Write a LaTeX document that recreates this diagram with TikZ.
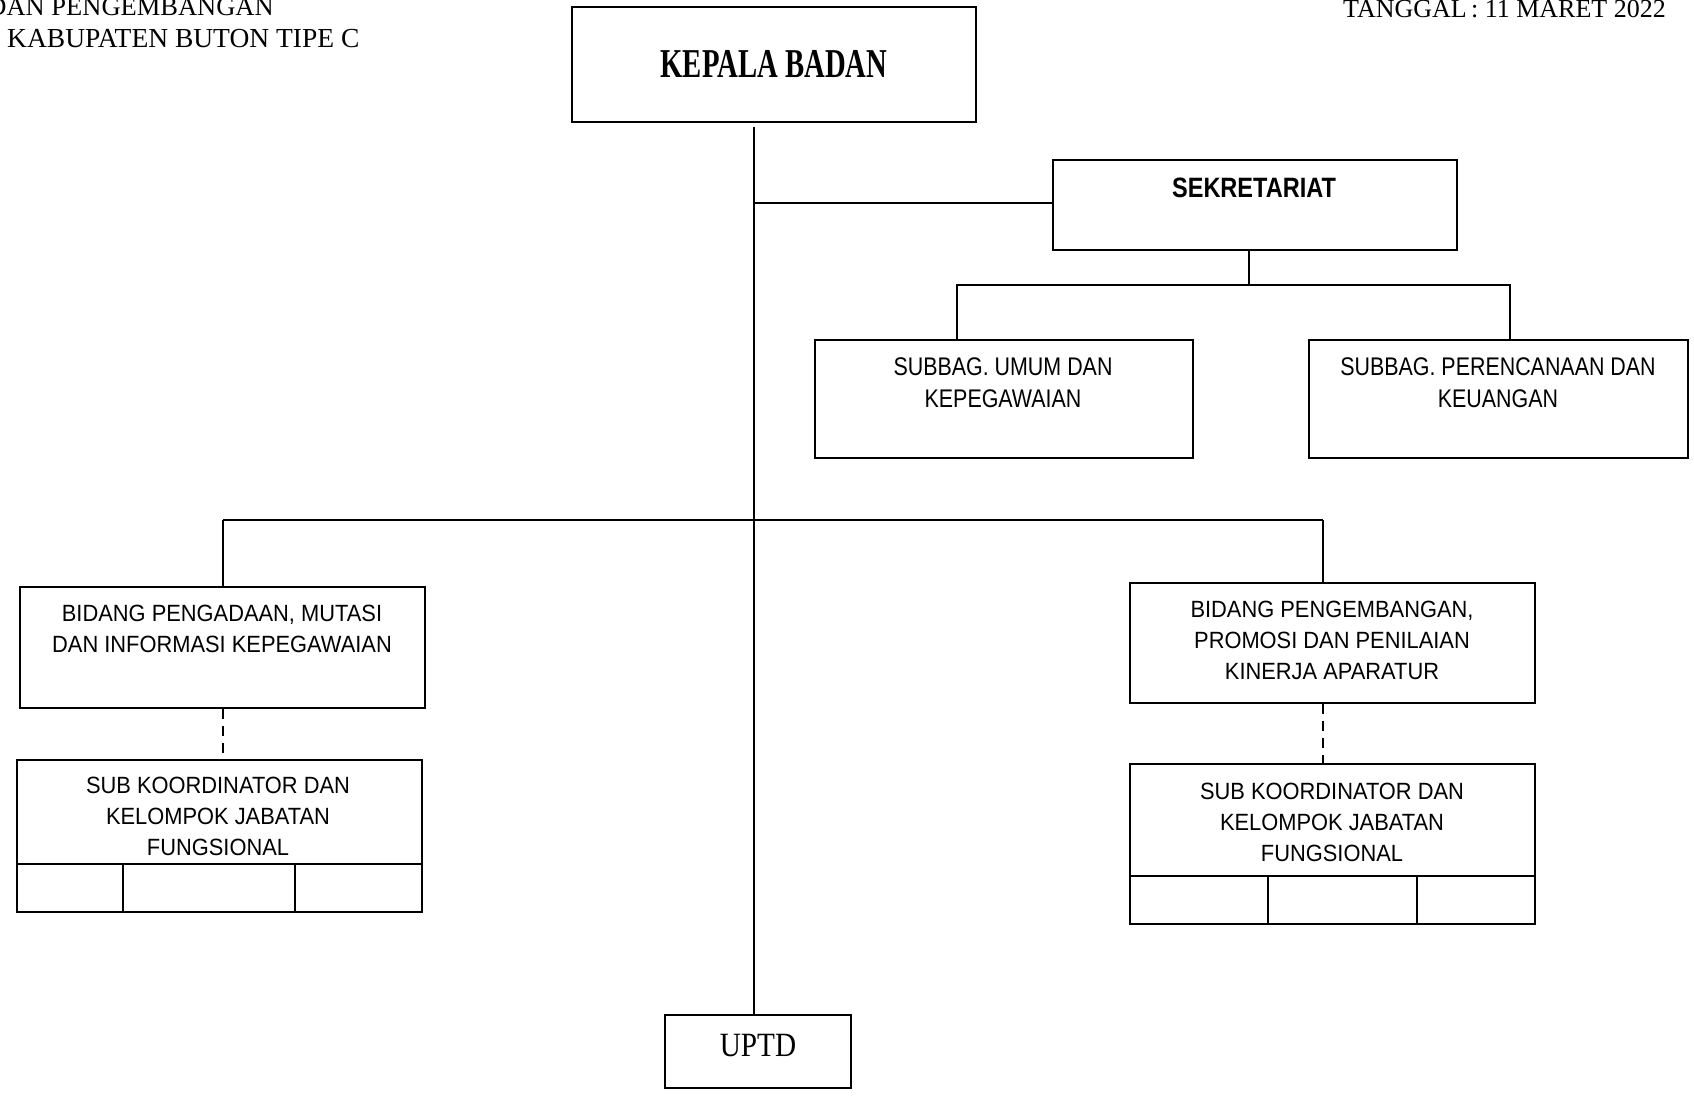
\documentclass[tikz,border=0pt]{standalone}
\usepackage{fontspec}
\setmainfont{Liberation Serif}
\newfontfamily\orgsans{Liberation Sans}[FakeStretch=0.93]
\newfontfamily\orgnarrow{Liberation Sans}[FakeStretch=0.84]
\newfontfamily\orghead{Liberation Serif}[FakeStretch=0.70]
\newfontfamily\orgunit{Liberation Serif}[FakeStretch=0.86]
\usetikzlibrary{positioning,calc}

\begin{document}
\begin{tikzpicture}[x=1pt, y=-1pt, line join=miter,
  box/.style={draw, line width=2.2pt, inner sep=0pt},
  link/.style={line width=2pt},
  dashlink/.style={line width=2pt, dash pattern=on 10pt off 7pt},
  boxtext/.style={inner sep=0pt, align=center, font=\orgsans\fontsize{23.5}{31}\selectfont},
  subtext/.style={inner sep=0pt, align=center, font=\orgnarrow\fontsize{25.5}{32}\selectfont},
  hdr/.style={inner sep=0pt, font=\fontsize{27.5}{32}\selectfont}]
\useasboundingbox (0,0) rectangle (1694,1095);
\fill[white] (0,0) rectangle (1694,1095);
\node[hdr, anchor=base east, font=\fontsize{26.5}{32}\selectfont] (hdr1) at (274,15) {DAN PENGEMBANGAN};
\node[hdr, anchor=base west] (hdr2) at (7,47) {KABUPATEN BUTON TIPE C};
\node[hdr, anchor=base west, font=\fontsize{26}{32}\selectfont] (tgl) at (1343,17) {TANGGAL\,: 11 MARET 2022};
\node[box, minimum width=404pt, minimum height=115pt, font=\orghead\bfseries\fontsize{41}{41}\selectfont] (kepala) at (774,64.5) {KEPALA BADAN};
\node[box, minimum width=404pt, minimum height=90pt] (sekret) at (1255,205) {};
\node[subtext, font=\orgnarrow\bfseries\fontsize{28}{32}\selectfont] (sekret-t) at (1254,188) {SEKRETARIAT};
\node[box, minimum width=378pt, minimum height=118pt] (umum) at (1004,399) {};
\node[subtext] (umum-t) at (1003,383) {SUBBAG. UMUM DAN\\KEPEGAWAIAN};
\node[box, minimum width=379pt, minimum height=118pt] (rencana) at (1498.5,399) {};
\node[subtext] (rencana-t) at (1498,383) {SUBBAG. PERENCANAAN DAN\\KEUANGAN};
\node[box, minimum width=405pt, minimum height=121pt] (mutasi) at (222.5,647.5) {};
\node[boxtext] (mutasi-t) at (222,629) {BIDANG PENGADAAN, MUTASI\\DAN INFORMASI KEPEGAWAIAN};
\node[box, minimum width=405pt, minimum height=120pt] (kinerja) at (1332.5,643) {};
\node[boxtext] (kinerja-t) at (1332,640) {BIDANG PENGEMBANGAN,\\PROMOSI DAN PENILAIAN\\KINERJA APARATUR};
\node[box, minimum width=405pt, minimum height=152pt] (fungsiA) at (219.5,836) {};
\node[boxtext] (fungsiA-t) at (218,816) {SUB KOORDINATOR DAN\\KELOMPOK JABATAN\\FUNGSIONAL};
\node[box, minimum width=405pt, minimum height=160pt] (fungsiB) at (1332.5,844) {};
\node[boxtext] (fungsiB-t) at (1332,822) {SUB KOORDINATOR DAN\\KELOMPOK JABATAN\\FUNGSIONAL};
\node[box, minimum width=186pt, minimum height=73pt] (uptd) at (758,1051.5) {};
\node[inner sep=0pt, font=\orgunit\fontsize{34}{34}\selectfont] (uptd-t) at (758,1046) {UPTD};
\coordinate (top) at (754,127);
\coordinate (jsek) at (754,203);
\coordinate (sdrop) at (1249,285);
\coordinate (sl) at (957,285);
\coordinate (sr) at (1510,285);
\coordinate (bl) at (223,520);
\coordinate (br) at (1323,520);
\draw[link] (top) -- (top |- uptd.north);
\draw[link] (jsek) -- (jsek -| sekret.west);
\draw[link] (sdrop |- sekret.south) -- (sdrop);
\draw[link, line width=2.3pt] (sl |- umum.north) -- (sl) -- (sr) -- (sr |- rencana.north);
\draw[link, line width=2.5pt] (bl) -- (br);
\draw[link] (bl) -- (bl |- mutasi.north);
\draw[link] (br) -- (br |- kinerja.north);
\draw[dashlink] (bl |- mutasi.south) -- (bl |- fungsiA.north);
\draw[dashlink] (br |- kinerja.south) -- (br |- fungsiB.north);
\draw[link] (fungsiA.west |- 0,864) -- (fungsiA.east |- 0,864);
\foreach \x in {123,295} \draw[link] (\x,864) -- (\x,912);
\draw[link] (fungsiB.west |- 0,876) -- (fungsiB.east |- 0,876);
\foreach \x in {1268,1417} \draw[link] (\x,876) -- (\x,924);
\end{tikzpicture}
\end{document}
